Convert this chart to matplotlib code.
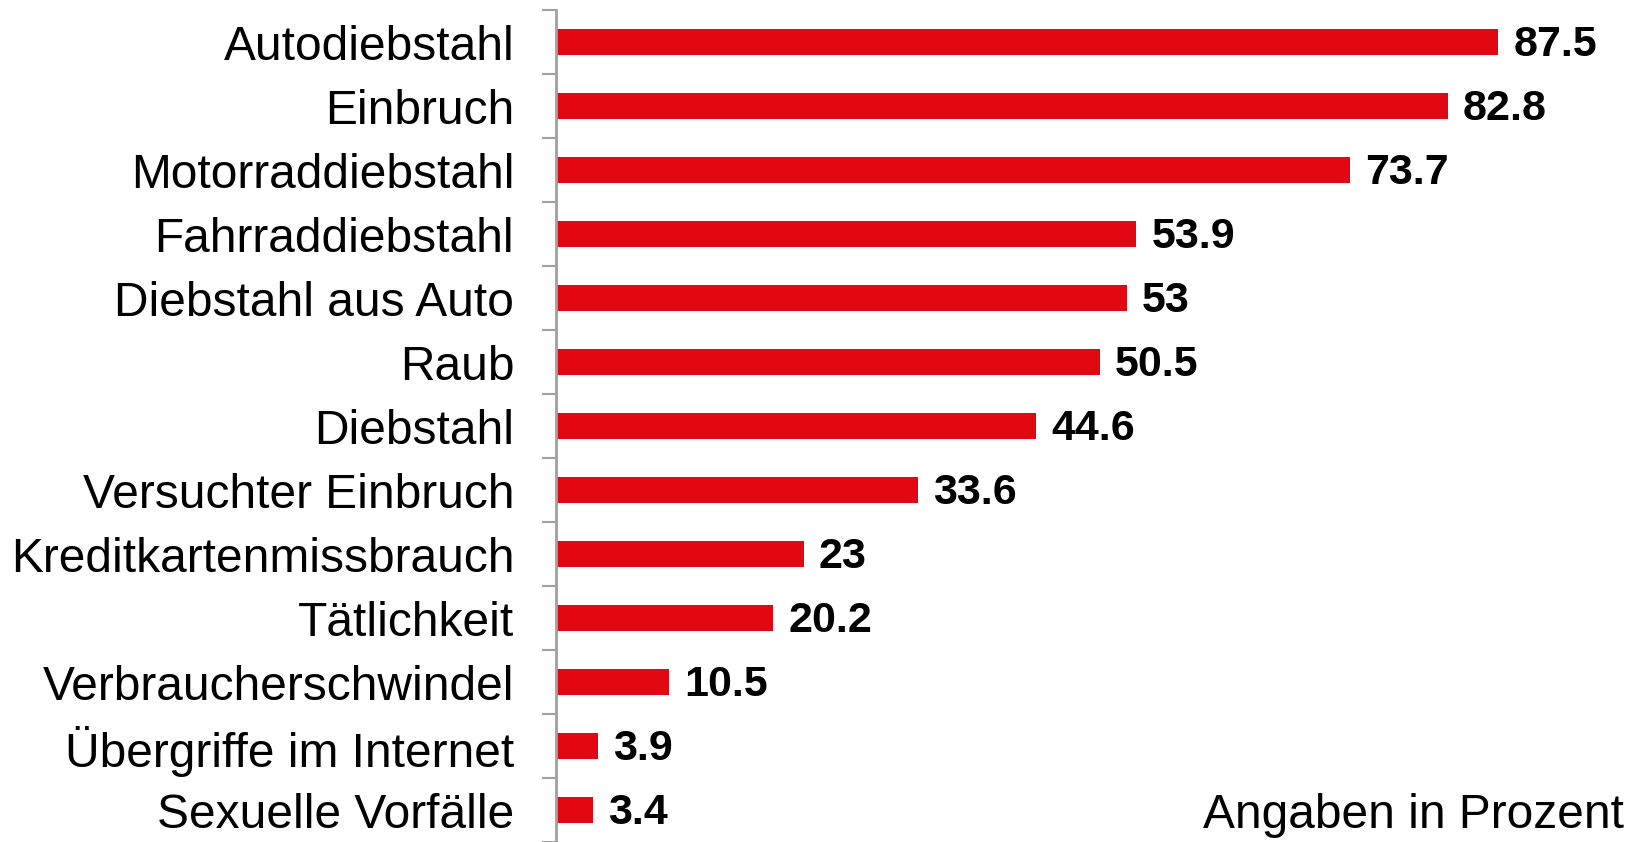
import matplotlib
matplotlib.use("Agg")
import matplotlib.pyplot as plt
import numpy as np

categories = ["Autodiebstahl", "Einbruch", "Motorraddiebstahl", "Fahrraddiebstahl",
              "Diebstahl aus Auto", "Raub", "Diebstahl", "Versuchter Einbruch",
              "Kreditkartenmissbrauch", "Tätlichkeit", "Verbraucherschwindel",
              "Übergriffe im Internet", "Sexuelle Vorfälle"]
values = [87.5, 82.8, 73.7, 53.9, 53, 50.5, 44.6, 33.6, 23, 20.2, 10.5, 3.9, 3.4]
value_labels = ["87.5", "82.8", "73.7", "53.9", "53", "50.5", "44.6", "33.6",
                "23", "20.2", "10.5", "3.9", "3.4"]

plt.rcParams['font.family'] = ['Liberation Sans', 'DejaVu Sans']

fig = plt.figure(figsize=(16.35, 8.42), dpi=100)
ax = fig.add_axes([0.340, 0.0, 0.66, 0.988])

y = np.arange(len(categories))
ax.barh(y, values, height=0.4, color="#E30613", zorder=2)

for yi, v, lab in zip(y, values, value_labels):
    ax.text(v + 1.4, yi + 0.05, lab, va="center", ha="left", fontsize=31,
            fontweight="bold", color="black")

ax.set_xlim(0, 100.2)
ax.set_ylim(len(categories) - 0.5, -0.5)

ax.set_yticks(y)
ax.set_yticklabels(categories, fontsize=34.5)
ax.tick_params(axis="y", which="major", length=0, pad=30)
ax.set_yticks(np.arange(len(categories) + 1) - 0.5, minor=True)
ax.tick_params(axis="y", which="minor", length=10, width=1.5, color="#A0A0A0")
ax.set_xticks([])

for s in ["top", "right", "bottom"]:
    ax.spines[s].set_visible(False)
ax.spines["left"].set_color("#A0A0A0")
ax.spines["left"].set_linewidth(2)

fig.text(0.993, 0.031, "Angaben in Prozent", ha="right", va="center", fontsize=34.5)

fig.savefig("out.png", dpi=100)
